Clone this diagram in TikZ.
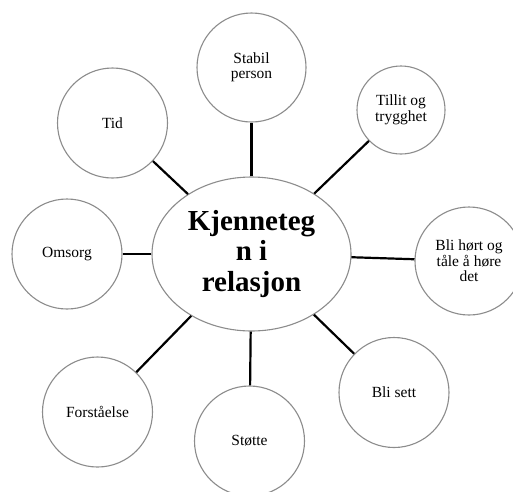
\documentclass[tikz,border=0pt]{standalone}
\usepackage{fontspec}
\setmainfont{Liberation Serif}
\usetikzlibrary{shapes.geometric}
\tikzset{
  bubble/.style={circle, draw=black!45, line width=1.1pt, fill=white, inner sep=0pt,
    align=center, font=\fontsize{15.5}{15.5}\selectfont},
  hub/.style={ellipse, draw=black!45, line width=1.1pt, fill=white, inner sep=0pt,
    minimum width=199pt, minimum height=154pt, align=center,
    font=\fontsize{29}{30.5}\selectfont\bfseries},
  spoke/.style={line width=2.2pt, black}
}
\begin{document}
\begin{tikzpicture}[x=1pt,y=-1pt]
\useasboundingbox (0,0) rectangle (513,491);
\node[hub] (hub) at (251.5,254) {Kjenneteg\\n i\\relasjon};
\node[bubble, minimum size=109pt] (stab) at (251.5,67.5) {Stabil\\person};
\node[bubble, minimum size=110pt] (tid) at (112.5,123) {Tid};
\node[bubble, minimum size=88pt] (til) at (401,110) {Tillit og\\trygghet};
\node[bubble, minimum size=110pt] (oms) at (67,254) {Omsorg};
\node[bubble, minimum size=108pt] (hor) at (469,261) {Bli hørt og\\tåle å høre\\det};
\node[bubble, minimum size=110pt] (for) at (97.5,412) {Forståelse};
\node[bubble, minimum size=110pt] (sto) at (249.5,441) {Støtte};
\node[bubble, minimum size=110pt] (sett) at (394,392.5) {Bli sett};
\foreach \t in {stab,tid,til,oms,hor,for,sto,sett}
  \draw[spoke] (hub) -- (\t);
\end{tikzpicture}
\end{document}
